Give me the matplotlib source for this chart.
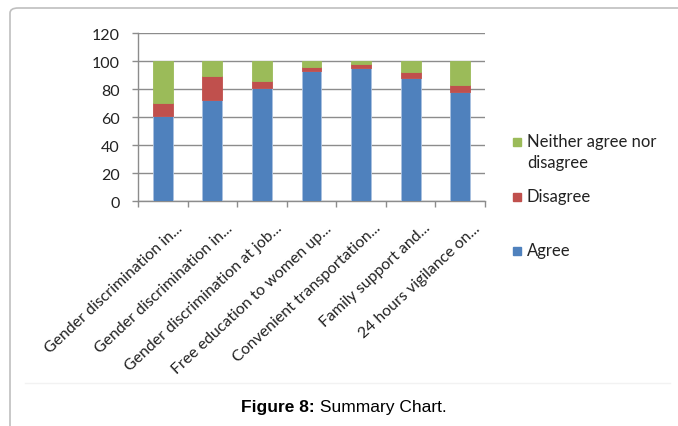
import matplotlib.pyplot as plt
import numpy as np
from matplotlib.patches import FancyBboxPatch, Rectangle
from matplotlib.lines import Line2D
from matplotlib.transforms import ScaledTranslation

# =====================================
# Data
# =====================================

categories = [
    "Gender discrimination in...",
    "Gender discrimination in...",
    "Gender discrimination at job...",
    "Free education to women up...",
    "Convenient transportation...",
    "Family support and...",
    "24 hours vigilance on...",
]

agree = [61, 72, 81, 93, 95, 88, 78]
disagree = [9, 17, 5, 3, 3, 4, 5]
neither = [30, 11, 14, 4, 2, 8, 17]

series_names = ["Agree", "Disagree", "Neither agree nor\ndisagree"]
series_colors = ["#4F81BD", "#C0504D", "#9BBB59"]

y_ticks = [0, 20, 40, 60, 80, 100, 120]

# =====================================
# Figure
# =====================================

plt.rcParams["font.family"] = ["Lato", "DejaVu Sans"]

W, H = 678, 427
fig = plt.figure(figsize=(W / 100, H / 100), dpi=100)

# page frame (rounded top-left corner)
frame = FancyBboxPatch(
    (10 / W, -0.2), 1.2, (H - 9) / H + 0.2,
    boxstyle="round,pad=0,rounding_size=0.012",
    transform=fig.transFigure, fill=False,
    edgecolor="#BFBFBF", linewidth=1.2, clip_on=False,
)
fig.patches.append(frame)
fig.add_artist(Line2D([25 / W, 670 / W], [1 - 384 / H] * 2,
                      transform=fig.transFigure, color="#F2F2F2", lw=1))

ax = fig.add_axes([138 / W, 1 - 202 / H, 347 / W, 168 / H])

x = np.arange(len(categories))
values = [agree, disagree, neither]
bottom = np.zeros(len(categories))
for vals, name, color in zip(values, series_names, series_colors):
    ax.bar(x, vals, width=0.4, bottom=bottom, color=color,
           edgecolor="#A9C1E0" if color == "#4F81BD" else color,
           linewidth=0.6, zorder=3)
    bottom += np.array(vals)

ax.set_xlim(-0.5, len(categories) - 0.5)
ax.set_ylim(0, 120)
ax.set_yticks(y_ticks)
ax.set_yticklabels([str(v) for v in y_ticks], fontsize=11.5, color="#222222")
ax.yaxis.grid(True, color="#8C8C8C", linewidth=1, zorder=0)
ax.set_axisbelow(True)

for side in ["top", "right"]:
    ax.spines[side].set_visible(False)
for side in ["left", "bottom"]:
    ax.spines[side].set_color("#8C8C8C")
    ax.spines[side].set_linewidth(1)

ax.tick_params(axis="y", length=4, width=1, color="#8C8C8C", pad=9)

# category boundary ticks
ax.set_xticks(np.arange(-0.5, len(categories), 1.0), minor=True)
ax.tick_params(axis="x", which="minor", length=4, width=1, color="#8C8C8C")
ax.set_xticks(x)
ax.set_xticklabels(categories, rotation=43, ha="right",
                   rotation_mode="anchor", fontsize=11.4, color="#222222")
ax.tick_params(axis="x", which="major", length=0, pad=14)
offset = ScaledTranslation(13 / 100, 0, fig.dpi_scale_trans)
for lab in ax.get_xticklabels():
    lab.set_transform(lab.get_transform() + offset)

# =====================================
# Legend
# =====================================

legend_y = [143, 198, 252]
for name, color, ly in zip(series_names[::-1], series_colors[::-1], legend_y):
    fig.patches.append(Rectangle((513 / W, 1 - (ly + 4) / H), 8 / W, 8 / H,
                                 transform=fig.transFigure, color=color))
    fig.text(527 / W, 1 - (ly - 9) / H, name, fontsize=12, va="top",
             ha="left", color="#222222", linespacing=1.4)

# =====================================
# Caption
# =====================================

cap_font = ["Liberation Sans", "DejaVu Sans"]
bold_part = fig.text(241 / W, 1 - 408 / H, "Figure 8:", ha="left",
                     va="center", fontsize=12.5, fontweight="bold",
                     family=cap_font)
ax.annotate(" Summary Chart.", xy=(1, 0.5), xycoords=bold_part,
            ha="left", va="center", fontsize=12.5, family=cap_font,
            annotation_clip=False)

fig.savefig("out.png", dpi=100)
